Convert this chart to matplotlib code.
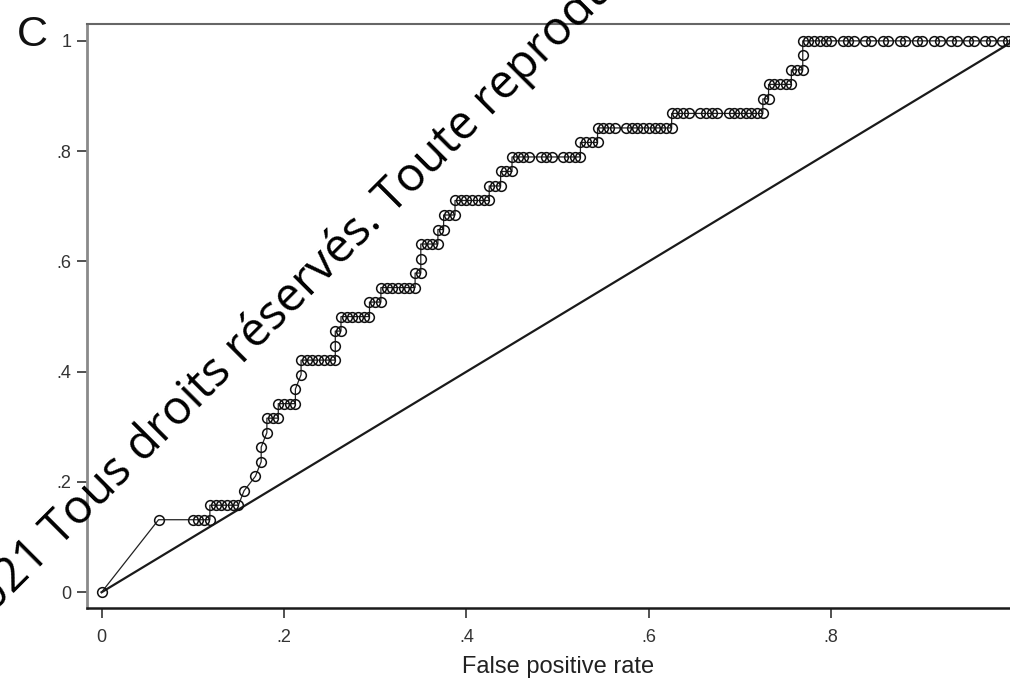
import numpy as np
import matplotlib.pyplot as plt

plt.rcParams['font.family'] = ['Liberation Sans', 'DejaVu Sans']

n_pos = 38
n_neg = 160

# cumulative false positives / true positives at each cutoff
neg_cum = [0,
           10, 16, 17, 18, 19,
           19, 20, 21, 22, 23, 24,
           25, 27, 28, 28, 29,
           29, 30, 31,
           31, 32, 33, 34,
           34, 35,
           35, 36, 37, 38, 39, 40, 41,
           41,
           41, 42,
           42, 43, 44, 45, 46, 47,
           47, 48, 49,
           49, 50, 51, 52, 53, 54, 55,
           55, 56,
           56,
           56, 57, 58, 59,
           59, 60,
           60, 61, 62,
           62, 63, 64, 65, 66, 67, 68,
           68, 69, 70,
           70, 71, 72,
           72, 73, 74, 75, 77, 78, 79, 81, 82, 83, 84,
           84, 85, 86, 87,
           87, 88, 89, 90, 92, 93, 94, 95, 96, 97, 98, 99, 100,
           100, 101, 102, 103, 105, 106, 107, 108, 110, 111, 112, 113, 114, 115, 116,
           116, 117,
           117, 118, 119, 120, 121,
           121, 122, 123,
           123,
           123, 124, 125, 126, 127, 128, 130, 131, 132, 134, 135, 137, 138, 140, 141,
           143, 144, 146, 147, 149, 150, 152, 153, 155, 156, 158, 159, 160]
pos_cum = [0,
           5, 5, 5, 5, 5,
           6, 6, 6, 6, 6, 6,
           7, 8, 9, 10, 11,
           12, 12, 12,
           13, 13, 13, 13,
           14, 15,
           16, 16, 16, 16, 16, 16, 16,
           17,
           18, 18,
           19, 19, 19, 19, 19, 19,
           20, 20, 20,
           21, 21, 21, 21, 21, 21, 21,
           22, 22,
           23,
           24, 24, 24, 24,
           25, 25,
           26, 26, 26,
           27, 27, 27, 27, 27, 27, 27,
           28, 28, 28,
           29, 29, 29,
           30, 30, 30, 30, 30, 30, 30, 30, 30, 30, 30,
           31, 31, 31, 31,
           32, 32, 32, 32, 32, 32, 32, 32, 32, 32, 32, 32, 32,
           33, 33, 33, 33, 33, 33, 33, 33, 33, 33, 33, 33, 33, 33, 33,
           34, 34,
           35, 35, 35, 35, 35,
           36, 36, 36,
           37,
           38, 38, 38, 38, 38, 38, 38, 38, 38, 38, 38, 38, 38, 38, 38,
           38, 38, 38, 38, 38, 38, 38, 38, 38, 38, 38, 38, 38]

ref_line = [0, 1]
tick_vals = [0, 0.2, 0.4, 0.6, 0.8, 1.0]
tick_labels = ['0', '.2', '.4', '.6', '.8', '1']

fpr = np.array(neg_cum) / n_neg
tpr = np.array(pos_cum) / n_pos

fig = plt.figure(figsize=(10.1, 6.87), dpi=100)
ax = fig.add_axes([0.0861, 0.1146, 0.932, 0.850])

ax.plot(ref_line, ref_line, color='#1a1a1a', lw=1.6, zorder=2)
ax.plot(fpr, tpr, color='#222222', lw=0.9, marker='o', ms=7,
        mfc='none', mec='#111111', mew=1.1, zorder=3)

ax.set_xlim(-0.016, 1.016)
ax.set_ylim(-0.029, 1.030)
ax.set_xticks(tick_vals)
ax.set_xticklabels(tick_labels)
ax.set_yticks(tick_vals)
ax.set_yticklabels(tick_labels)
ax.tick_params(axis='both', length=7, width=1.2, color='#333333',
               labelsize=13, labelcolor='#333333')
ax.tick_params(axis='x', pad=8)
ax.tick_params(axis='y', pad=4)

ax.spines['left'].set_color('#8a8a8a')
ax.spines['left'].set_linewidth(2.0)
ax.spines['top'].set_color('#666666')
ax.spines['top'].set_linewidth(1.5)
ax.spines['bottom'].set_color('#1a1a1a')
ax.spines['bottom'].set_linewidth(1.8)
ax.spines['right'].set_visible(False)

ax.set_xlabel('False positive rate', fontsize=17, color='#222222', labelpad=7)

fig.text(0.017, 0.978, 'C', fontsize=31, va='top', ha='left', color='#111111')

# copyright stamp across the plot, split at "Toute"
wm_x, wm_y = 392 / 1010, 1 - 215 / 687
fig.text(wm_x, wm_y, 'Toute reproduction interdite.',
         family=['Open Sans', 'DejaVu Sans'], fontsize=34, rotation=45,
         rotation_mode='anchor', ha='left', va='baseline', color='black', zorder=10)
fig.text(wm_x, wm_y, '© 2021 Tous droits réservés. ',
         family=['Open Sans', 'DejaVu Sans'], fontsize=34, rotation=45,
         rotation_mode='anchor', ha='right', va='baseline', color='black', zorder=10)

fig.savefig('out.png', dpi=100)
